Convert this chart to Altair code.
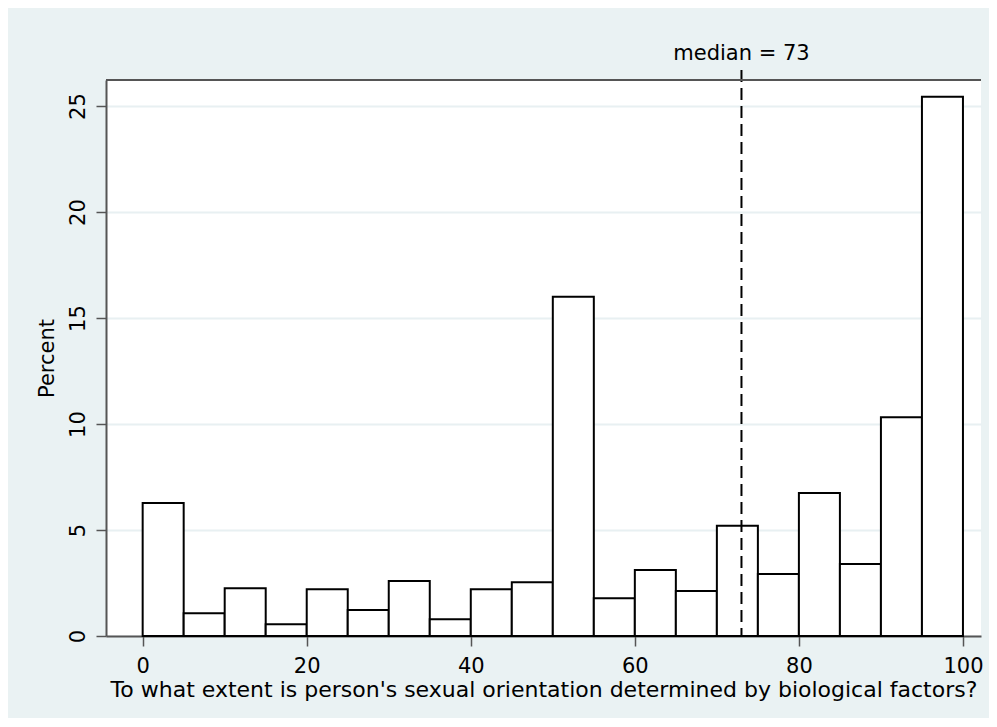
import altair as alt
import pandas as pd

# Histogram data (bin width 5)
bin_start = [0, 5, 10, 15, 20, 25, 30, 35, 40, 45, 50, 55, 60, 65, 70, 75, 80, 85, 90, 95]
percent = [6.27, 1.07, 2.25, 0.55, 2.2, 1.23, 2.59, 0.79, 2.2, 2.53,
           16.0, 1.78, 3.11, 2.12, 5.2, 2.92, 6.75, 3.4, 10.32, 25.44]
bin_width = 5
median_value = [73]
median_label = ["median = 73"]
x_ticks = [0, 20, 40, 60, 80, 100]
y_ticks = [0, 5, 10, 15, 20, 25]
x_title = "To what extent is person's sexual orientation determined by biological factors?"
y_title = "Percent"

df = pd.DataFrame({"start": bin_start, "pct": percent})
df["end"] = df["start"] + bin_width
med = pd.DataFrame({"m": median_value, "label": median_label, "ytop": [26.7], "ytext": [27.17]})

FONT = "DejaVu Sans"
W, H = 875, 556

xs = alt.Scale(domain=[-4.47, 102.2], nice=False, zero=False)
ys = alt.Scale(domain=[0, 26.23], nice=False, zero=False)

bars = alt.Chart(df).mark_bar(fill="white", stroke="black", strokeWidth=2).encode(
    x=alt.X("start:Q", scale=xs,
            axis=alt.Axis(values=x_ticks, title=x_title, grid=False, tickSize=10,
                          labelPadding=9, titlePadding=3, titleFontSize=22, format="d")),
    x2="end:Q",
    y=alt.Y("pct:Q", scale=ys,
            axis=alt.Axis(values=y_ticks, title=y_title, grid=True, tickSize=10,
                          labelAngle=270, labelPadding=8, titlePadding=10, format="d")),
    y2=alt.datum(0),
)

rule = alt.Chart(med).mark_rule(color="black", strokeWidth=2, strokeDash=[12, 6], clip=False).encode(
    x=alt.X("m:Q", scale=xs),
    y=alt.Y("ytop:Q", scale=ys),
    y2=alt.datum(0),
)

txt = alt.Chart(med).mark_text(font=FONT, fontSize=21, color="black", baseline="alphabetic",
                               align="center", clip=False).encode(
    x=alt.X("m:Q", scale=xs),
    y=alt.Y("ytext:Q", scale=ys),
    text="label:N",
)

top_border = alt.Chart(med).mark_rule(color="#555555", strokeWidth=2).encode(
    x=alt.value(0), x2=alt.value(W), y=alt.value(0)
)

chart = alt.layer(bars, rule, txt, top_border).properties(
    width=W, height=H,
    autosize=alt.AutoSizeParams(type="none"),
    padding={"left": 98, "top": 72, "right": 8, "bottom": 82},
).configure(
    background="#EAF2F3",
    font=FONT,
).configure_view(
    fill="white", stroke=None,
).configure_axis(
    labelFont=FONT, titleFont=FONT, labelFontSize=21, titleFontSize=21,
    labelColor="black", titleColor="black", titleFontWeight="normal",
    domainColor="#555555", domainWidth=2, tickColor="#555555", tickWidth=1.5,
    gridColor="#E8F0F2", gridWidth=2,
)

chart.save("out.html", embed_options={"renderer": "svg", "actions": False})
